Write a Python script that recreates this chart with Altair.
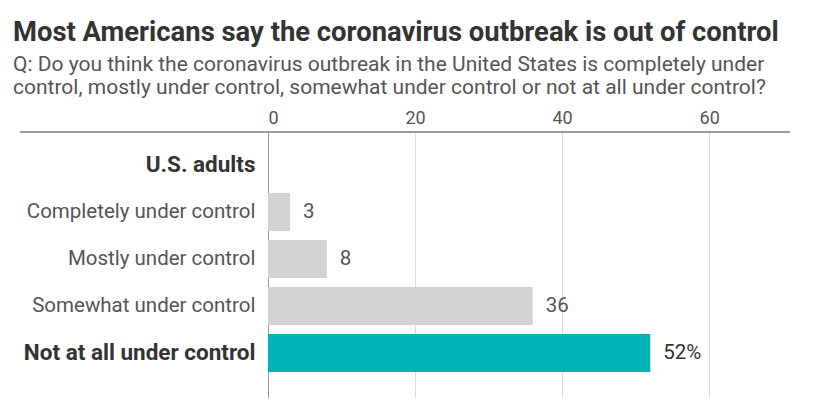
import altair as alt
import pandas as pd

categories = ["U.S. adults", "Completely under control", "Mostly under control",
              "Somewhat under control", "Not at all under control"]
values = [None, 3, 8, 36, 52]
value_labels = ["", "3", "8", "36", "52%"]
bar_colors = ["#d3d3d1", "#d3d3d1", "#d3d3d1", "#d3d3d1", "#00b3b6"]
label_colors = ["#555555", "#555555", "#555555", "#555555", "#333333"]
x_ticks = [0, 20, 40, 60]

title = "Most Americans say the coronavirus outbreak is out of control"
subtitle = ["Q: Do you think the coronavirus outbreak in the United States is completely under",
            "control, mostly under control, somewhat under control or not at all under control?"]

FONT = "Roboto, sans-serif"
BOLD_TEST = "datum.value === 'U.S. adults' || datum.value === 'Not at all under control'"

df = pd.DataFrame({
    "category": categories,
    "value": values,
    "label": value_labels,
    "barcolor": bar_colors,
    "labelcolor": label_colors,
})

W, H = 522, 266

y_enc = alt.Y(
    "category:N",
    sort=categories,
    scale=alt.Scale(paddingInner=0.1915, paddingOuter=0.4255, align=0.35),
    axis=alt.Axis(
        title=None, domain=False, ticks=False, grid=False,
        labelFont=FONT, labelPadding=13, labelLimit=0,
        labelFontSize={"condition": {"test": BOLD_TEST, "value": 22.5}, "value": 20.5},
        labelColor={"condition": {"test": BOLD_TEST, "value": "#333333"}, "value": "#555555"},
        labelFontWeight={"condition": {"test": BOLD_TEST, "value": "bold"}, "value": "normal"},
    ),
)

x_scale = alt.Scale(domain=[0, 71], nice=False, zero=True)

bars = alt.Chart(df).mark_bar().encode(
    x=alt.X(
        "value:Q", scale=x_scale,
        axis=alt.Axis(
            orient="top", title=None, domain=False, ticks=False, values=x_ticks,
            labelFontSize=18, labelFont=FONT, labelColor="#555555", labelPadding=5,
            grid=True,
            gridColor={"condition": {"test": "datum.value === 0", "value": "#999999"}, "value": "#dddddd"},
            gridWidth=1,
        ),
    ),
    y=y_enc,
    color=alt.Color("barcolor:N", scale=None, legend=None),
)

text = alt.Chart(df).mark_text(align="left", baseline="middle", dx=13, fontSize=20.5, font=FONT).encode(
    x=alt.X("value:Q", scale=x_scale),
    y=alt.Y("category:N", sort=categories),
    text="label:N",
    color=alt.Color("labelcolor:N", scale=None, legend=None),
)

top_rule = alt.Chart(df).mark_rule(color="#999999", strokeWidth=1.2).encode(
    x=alt.value(-248), x2=alt.value(W), y=alt.value(0)
)

chart = alt.layer(bars, text, top_rule).properties(
    width=W,
    height=H,
    autosize=alt.AutoSizeParams(type="none"),
    padding={"left": 260, "top": 124, "right": 10, "bottom": 0},
    title=alt.TitleParams(
        text=title,
        subtitle=subtitle,
        anchor="start",
        frame="group",
        dx=-255,
        offset=11,
        font=FONT,
        fontSize=27.4,
        fontWeight="bold",
        color="#333333",
        subtitleFont=FONT,
        subtitleFontSize=21,
        subtitleColor="#555555",
        subtitlePadding=8,
        subtitleLineHeight=23,
    ),
).configure_view(stroke=None)

chart.save("out.html", embed_options={"renderer": "svg", "actions": False})
